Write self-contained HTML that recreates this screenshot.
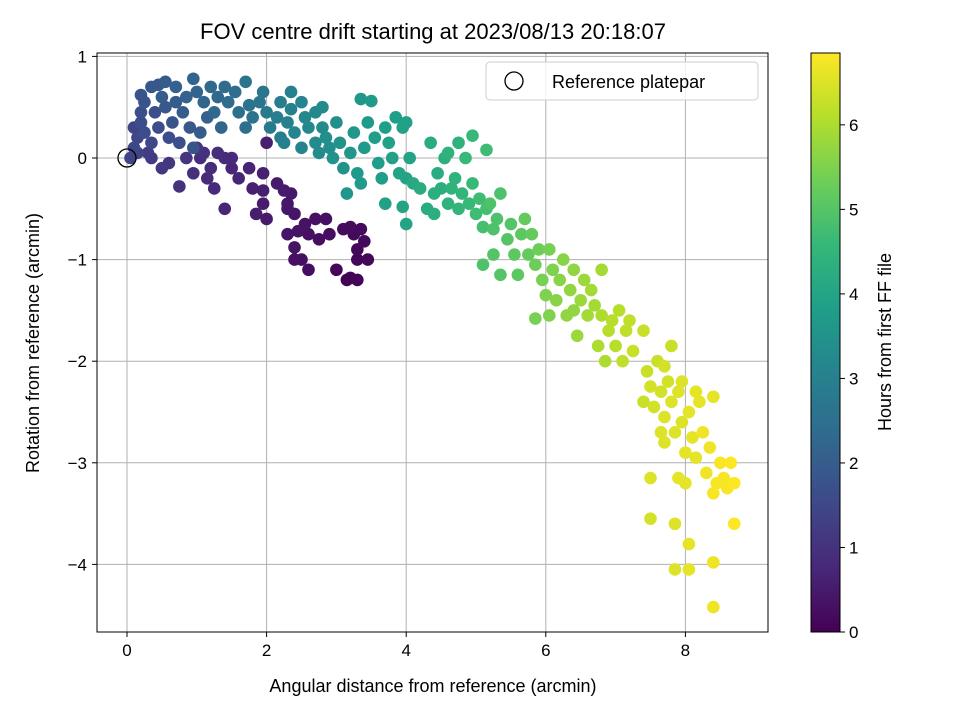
<!DOCTYPE html>
<html><head><meta charset="utf-8"><style>
body{margin:0;background:#fff;}
svg{display:block;font-family:"Liberation Sans","DejaVu Sans",sans-serif;}
</style></head><body>
<svg id="chart" width="960" height="720" viewBox="0 0 960 720" xmlns="http://www.w3.org/2000/svg">
<defs>
<linearGradient id="vir" x1="0" y1="1" x2="0" y2="0">
<stop offset="0" stop-color="#440154"/><stop offset="0.111" stop-color="#482878"/><stop offset="0.222" stop-color="#3e4989"/><stop offset="0.333" stop-color="#31688e"/><stop offset="0.444" stop-color="#26828e"/><stop offset="0.556" stop-color="#1f9e89"/><stop offset="0.667" stop-color="#35b779"/><stop offset="0.778" stop-color="#6ece58"/><stop offset="0.889" stop-color="#b5de2b"/><stop offset="1" stop-color="#fde725"/>
</linearGradient>
</defs>
<text x="433" y="39" font-size="22" text-anchor="middle">FOV centre drift starting at 2023/08/13 20:18:07</text>
<g id="grid"></g>
<g id="points"></g>
<rect x="97" y="53" width="671" height="579" fill="none" stroke="#000" stroke-width="1"/>
<g id="axes"></g>
<text x="433" y="692" font-size="18" text-anchor="middle">Angular distance from reference (arcmin)</text>
<text transform="translate(39,343) rotate(-90)" font-size="18" text-anchor="middle">Rotation from reference (arcmin)</text>
<g>
<rect x="486" y="62" width="272" height="38" rx="4" fill="#fff" fill-opacity="0.8" stroke="#ccc"/>
<circle cx="514" cy="81" r="9" fill="none" stroke="#000" stroke-width="1.3"/>
<text x="552" y="88" font-size="18">Reference platepar</text>
</g>
<rect x="811" y="53" width="29" height="579" fill="url(#vir)"/>
<rect x="811" y="53" width="29" height="579" fill="none" stroke="#000" stroke-width="1"/>
<g id="cbticks"></g>
<text transform="translate(891,342) rotate(-90)" font-size="18" text-anchor="middle">Hours from first FF file</text>
</svg>
<script>
const xTicks=[0,2,4,6,8];
const yTicks=[1,0,-1,-2,-3,-4];
const cbTicks=[0,1,2,3,4,5,6];
const xs=[3.2,3.15,3.3,3.0,3.3,3.45,3.3,3.4,3.25,3.35,3.2,3.1,2.9,2.75,2.6,2.7,2.85,2.55,2.45,2.3,2.4,2.5,2.4,2.6,2.3,2.4,2.3,2.25,2.15,2.35,2.0,1.95,1.85,1.8,1.95,1.95,1.4,1.5,1.6,1.75,1.2,1.15,1.25,1.05,1.4,1.5,0.95,0.75,0.85,0.6,0.5,0.35,0.3,1.0,1.1,2.0,1.3,
0.1,0.1,0.15,0.2,0.25,0.2,0.25,0.2,0.35,0.45,0.55,0.4,0.45,0.35,0.6,0.65,0.55,0.7,0.8,0.9,0.75,0.95,1.05,0.85,0.95,1.0,1.1,1.15,1.2,1.3,1.25,1.35,1.4,1.45,1.6,1.55,0.05,0.15,0.5,0.7,
1.7,1.75,1.8,1.7,1.9,1.95,2.0,2.05,2.15,2.2,2.3,2.25,2.4,2.35,2.35,2.5,2.55,2.6,2.7,2.7,2.75,2.8,2.8,2.85,2.9,3.0,2.95,3.05,3.1,3.15,3.2,3.25,3.3,3.35,3.4,3.45,3.35,3.5,3.55,3.6,3.65,3.7,3.75,3.8,3.85,3.9,3.95,3.7,4.0,4.05,3.95,4.0,4.1,4.0,2.2,2.5,
4.2,4.3,4.4,4.45,4.5,4.55,4.6,4.7,4.75,4.8,4.75,4.85,4.9,4.95,5.0,4.95,5.05,5.1,5.15,5.15,5.2,5.25,5.35,5.3,5.1,5.25,5.35,5.45,5.5,5.55,5.6,5.65,5.7,4.4,4.6,4.35,4.65,
5.75,5.8,5.85,5.9,5.85,5.95,6.0,6.05,6.1,6.15,6.2,6.25,6.3,6.35,6.4,6.45,6.5,6.55,6.6,6.65,6.7,6.75,6.8,6.8,6.85,6.9,6.95,7.0,7.05,7.1,7.15,7.2,6.4,6.05,
7.25,7.4,7.45,7.5,7.55,7.4,7.6,7.65,7.7,7.75,7.8,7.85,7.9,7.95,8.0,8.05,8.1,8.15,8.2,8.25,8.3,8.35,8.4,8.45,8.5,8.55,8.6,8.65,8.7,8.7,8.4,7.8,7.7,7.95,7.7,8.0,7.9,7.5,7.5,7.85,8.05,7.85,8.05,8.4,8.4,7.65,8.15];
const ys=[-1.18,-1.2,-1.2,-1.1,-1.0,-1.0,-0.9,-0.82,-0.75,-0.7,-0.68,-0.7,-0.75,-0.8,-0.75,-0.6,-0.6,-0.65,-0.72,-0.75,-0.88,-1.0,-1.0,-1.1,-0.5,-0.55,-0.45,-0.32,-0.25,-0.35,-0.6,-0.45,-0.55,-0.3,-0.32,-0.15,-0.5,-0.1,-0.2,-0.1,-0.1,-0.2,-0.3,0.0,0.0,0.0,-0.15,-0.28,0.0,-0.05,-0.1,0.0,0.05,0.1,0.05,0.15,0.05,
0.3,0.1,0.2,0.35,0.25,0.45,0.55,0.62,0.7,0.72,0.75,0.45,0.3,0.15,0.2,0.35,0.5,0.55,0.45,0.3,0.15,0.1,0.25,0.6,0.78,0.65,0.55,0.4,0.7,0.6,0.45,0.3,0.7,0.55,0.45,0.65,0.0,0.05,0.6,0.7,
0.75,0.52,0.4,0.3,0.55,0.65,0.45,0.3,0.4,0.55,0.35,0.15,0.25,0.48,0.65,0.55,0.4,0.3,0.45,0.15,0.05,0.3,0.5,0.2,0.1,0.35,0.0,0.15,-0.1,-0.35,0.05,0.25,-0.15,-0.25,0.1,0.35,0.58,0.56,0.2,-0.05,-0.2,0.3,0.15,0.0,0.4,-0.15,0.3,-0.45,-0.2,0.0,-0.48,-0.65,-0.25,0.35,0.2,0.1,
-0.3,-0.5,-0.55,-0.15,-0.3,0.0,-0.45,-0.2,-0.5,-0.35,0.15,0.0,-0.45,-0.25,-0.55,0.22,-0.4,-0.68,0.08,-0.5,-0.45,-0.7,-0.35,-0.6,-1.05,-0.95,-1.15,-0.8,-0.65,-0.95,-1.15,-0.75,-0.6,-0.35,0.05,0.15,-0.3,
-0.95,-0.75,-1.05,-0.9,-1.58,-1.2,-1.35,-0.9,-1.1,-1.4,-1.2,-1.0,-1.55,-1.3,-1.1,-1.75,-1.4,-1.2,-1.55,-1.3,-1.45,-1.85,-1.1,-1.55,-2.0,-1.7,-1.6,-1.85,-1.5,-2.0,-1.7,-1.6,-1.5,-1.55,
-1.9,-1.7,-2.1,-2.25,-2.45,-2.4,-2.0,-2.3,-2.55,-2.2,-2.4,-2.7,-2.3,-2.6,-2.9,-2.5,-2.75,-2.95,-2.4,-2.7,-3.1,-2.85,-2.35,-3.2,-3.0,-3.15,-3.25,-3.0,-3.2,-3.6,-3.3,-1.85,-2.05,-2.2,-2.8,-3.2,-3.15,-3.15,-3.55,-3.6,-3.8,-4.05,-4.05,-3.98,-4.42,-2.7,-2.3];
const hours=[0.05,0.05,0.08,0.1,0.1,0.12,0.12,0.15,0.15,0.18,0.2,0.22,0.25,0.28,0.3,0.32,0.3,0.33,0.35,0.38,0.35,0.3,0.32,0.28,0.42,0.4,0.45,0.48,0.5,0.45,0.5,0.52,0.55,0.6,0.58,0.62,0.7,0.75,0.72,0.68,0.85,0.85,0.8,0.9,0.85,0.8,0.95,1.0,1.05,1.1,1.15,1.2,1.25,1.1,1.0,0.6,0.9,
1.4,1.5,1.5,1.6,1.6,1.7,1.8,1.8,1.9,1.9,2.0,1.7,1.6,1.5,1.6,1.8,1.9,2.0,2.0,1.9,1.7,1.8,2.0,2.1,2.2,2.2,2.2,2.1,2.3,2.3,2.3,2.2,2.4,2.4,2.5,2.5,1.4,1.4,2.0,2.1,
2.6,2.6,2.6,2.5,2.7,2.7,2.8,2.8,2.9,2.9,3.0,3.0,3.1,3.0,3.0,3.1,3.2,3.2,3.2,3.3,3.3,3.3,3.3,3.4,3.4,3.4,3.5,3.5,3.5,3.6,3.6,3.6,3.7,3.7,3.7,3.7,3.6,3.7,3.8,3.8,3.8,3.8,3.9,3.9,3.8,4.0,3.9,3.9,4.0,4.0,4.0,4.0,4.1,3.9,2.9,3.1,
4.2,4.2,4.3,4.2,4.3,4.3,4.4,4.4,4.5,4.5,4.4,4.6,4.6,4.6,4.7,4.6,4.7,4.8,4.7,4.8,4.9,4.9,4.9,4.9,4.9,5.0,5.0,5.0,5.0,5.1,5.1,5.1,5.2,4.3,4.4,4.2,4.4,
5.2,5.2,5.3,5.3,5.4,5.4,5.5,5.4,5.5,5.6,5.6,5.6,5.7,5.7,5.7,5.8,5.8,5.8,5.9,5.9,5.9,6.0,5.9,6.0,6.0,6.1,6.1,6.1,6.1,6.2,6.2,6.2,5.7,5.5,
6.3,6.3,6.3,6.4,6.4,6.3,6.3,6.4,6.5,6.4,6.5,6.5,6.5,6.5,6.6,6.6,6.6,6.6,6.6,6.7,6.7,6.7,6.6,6.8,6.8,6.8,6.8,6.85,6.85,6.85,6.8,6.3,6.4,6.5,6.5,6.6,6.6,6.5,6.4,6.5,6.6,6.5,6.6,6.7,6.7,6.5,6.6];
const HMAX=6.85;
const NS='http://www.w3.org/2000/svg';
const X=v=>127+v*69.8;
const Y=v=>158-v*101.6;
const CB=v=>632-v*(579/HMAX);
const stops=['#440154','#482878','#3e4989','#31688e','#26828e','#1f9e89','#35b779','#6ece58','#b5de2b','#fde725'];
function hex(c){return [1,3,5].map(i=>parseInt(c.substr(i,2),16));}
function vir(t){t=Math.max(0,Math.min(1,t));const p=t*(stops.length-1);const i=Math.min(stops.length-2,Math.floor(p));const f=p-i;const a=hex(stops[i]),b=hex(stops[i+1]);return 'rgb('+a.map((v,k)=>Math.round(v+(b[k]-v)*f)).join(',')+')';}
function mk(tag,attrs,parent){const e=document.createElementNS(NS,tag);for(const k in attrs)e.setAttribute(k,attrs[k]);parent.appendChild(e);return e;}
const grid=document.getElementById('grid'),axes=document.getElementById('axes');
xTicks.forEach(v=>{
const l=mk('line',{x1:X(v),x2:X(v),y1:53,y2:632,stroke:'#b0b0b0','stroke-width':1},grid);


mk('line',{x1:X(v),x2:X(v),y1:632,y2:637,stroke:'#000'},axes);
const t=mk('text',{x:X(v),y:656,'font-size':17,'text-anchor':'middle'},axes);t.textContent=String(v);


});
yTicks.forEach(v=>{
const l=mk('line',{x1:97,x2:768,y1:Y(v),y2:Y(v),stroke:'#b0b0b0','stroke-width':1},grid);


mk('line',{x1:92,x2:97,y1:Y(v),y2:Y(v),stroke:'#000'},axes);
const t=mk('text',{x:87,y:Y(v)+6,'font-size':17,'text-anchor':'end'},axes);t.textContent=(v<0?'\u2212'+(-v):String(v));


});
const cbg=document.getElementById('cbticks');
cbTicks.forEach(v=>{
mk('line',{x1:840,x2:845,y1:CB(v),y2:CB(v),stroke:'#000'},cbg);
const t=mk('text',{x:849,y:CB(v)+6,'font-size':17},cbg);t.textContent=String(v);


});
const pts=document.getElementById('points');
const idx=hours.map((h,i)=>i).sort((a,b)=>hours[a]-hours[b]);
idx.forEach(i=>{
const c=mk('circle',{cx:X(xs[i]),cy:Y(ys[i]),r:6.3,fill:vir(hours[i]/HMAX)},pts);


});
const ref=mk('circle',{cx:X(0),cy:Y(0),r:9,fill:'none',stroke:'#000','stroke-width':1.3},pts);


</script>
</body></html>
